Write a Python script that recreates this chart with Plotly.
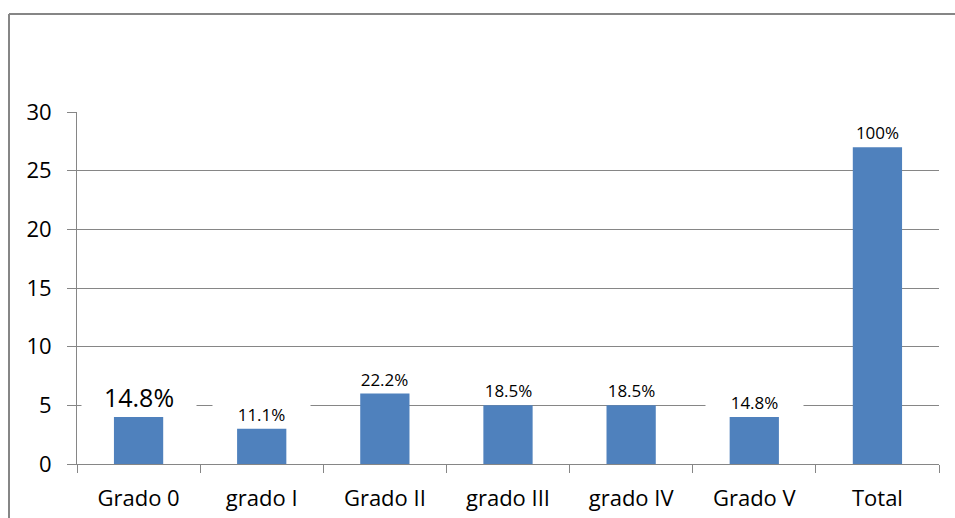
import plotly.graph_objects as go

# Data
categories = ["Grado 0", "grado I", "Grado II", "grado III", "grado IV", "Grado V", "Total"]
counts = [4, 3, 6, 5, 5, 4, 27]
pct_labels = ["14.8%", "11.1%", "22.2%", "18.5%", "18.5%", "14.8%", "100%"]
y_ticks = [0, 5, 10, 15, 20, 25, 30]

# Canvas and plot-area geometry (pixels)
W, H = 955, 518
ML, MR, MT, MB = 77, 16, 112, 54
PW, PH = W - ML - MR, H - MT - MB

GRAY = "#868686"
BAR = "#4F81BD"
FONT = "Open Sans"


def px_to_paper_x(px):
    return (px - ML) / PW


def px_to_paper_y(py):
    return (H - MB - py) / PH


fig = go.Figure(
    go.Bar(
        x=categories,
        y=counts,
        marker=dict(color=BAR, line=dict(width=0)),
        width=0.4,
        hoverinfo="skip",
    )
)

# Value labels with white backing boxes (they hide gridlines beneath them)
annotations = []
for i, (cat, val, lab) in enumerate(zip(categories, counts, pct_labels)):
    big = i == 0
    annotations.append(
        dict(
            x=cat,
            y=val,
            xref="x",
            yref="y",
            text=lab,
            showarrow=False,
            yanchor="bottom",
            yshift=2,
            valign="bottom",
            bgcolor="white",
            borderpad=0,
            width=114 if big else 97,
            height=32 if big else 28,
            font=dict(family=FONT, size=25 if big else 17, color="black"),
        )
    )

# Outer chart frame: top and left edges
shapes = [
    dict(
        type="line", xref="paper", yref="paper",
        x0=px_to_paper_x(9), x1=px_to_paper_x(W + 5),
        y0=px_to_paper_y(14), y1=px_to_paper_y(14),
        line=dict(color=GRAY, width=2),
    ),
    dict(
        type="line", xref="paper", yref="paper",
        x0=px_to_paper_x(9), x1=px_to_paper_x(9),
        y0=px_to_paper_y(14), y1=px_to_paper_y(H + 5),
        line=dict(color=GRAY, width=2),
    ),
]

fig.update_layout(
    width=W,
    height=H,
    margin=dict(l=ML, r=MR, t=MT, b=MB, pad=0, autoexpand=False),
    paper_bgcolor="white",
    plot_bgcolor="white",
    showlegend=False,
    bargap=0.6,
    annotations=annotations,
    shapes=shapes,
    font=dict(family=FONT, size=22, color="black"),
)

fig.update_xaxes(
    type="category",
    range=[-0.5, len(categories) - 0.5],
    automargin=False,
    showline=True,
    linecolor=GRAY,
    linewidth=1,
    ticks="outside",
    tickson="boundaries",
    ticklen=8,
    tickcolor=GRAY,
    tickwidth=1,
    showgrid=False,
    ticklabelstandoff=15,
    tickfont=dict(family=FONT, size=22, color="black"),
)

fig.update_yaxes(
    range=[0, 30],
    tickvals=y_ticks,
    automargin=False,
    showline=True,
    linecolor=GRAY,
    linewidth=1,
    ticks="outside",
    ticklen=9,
    tickcolor=GRAY,
    tickwidth=1,
    showgrid=True,
    gridcolor=GRAY,
    gridwidth=1,
    zeroline=False,
    ticklabelstandoff=11,
    tickfont=dict(family=FONT, size=22, color="black"),
)

fig.write_html("out.html")
